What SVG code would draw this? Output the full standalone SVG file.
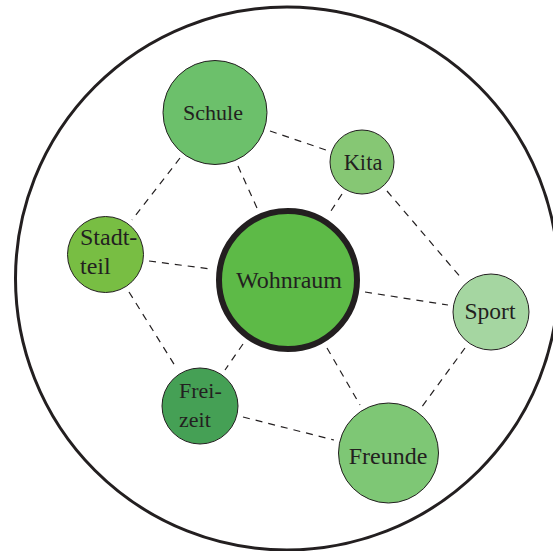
<svg xmlns="http://www.w3.org/2000/svg" width="553" height="551" viewBox="0 0 553 551">
  <style>
    .frame { fill: none; stroke: #231f20; stroke-width: 3; }
    .node { stroke: #231f20; stroke-width: 1; }
    .hub { stroke: #231f20; stroke-width: 6; }
    .link { stroke: #231f20; stroke-width: 1.2; stroke-dasharray: 7 6; fill: none; }
    .label { font-family: "Liberation Serif", "DejaVu Serif", serif; font-size: 22px; fill: #231f20; }
    .mid { text-anchor: middle; }
  </style>
  <rect width="553" height="551" fill="#ffffff"/>
  <circle class="frame" cx="287" cy="278.5" r="271.5"/>

  <g id="connectors">
    <line class="link" x1="270" y1="131" x2="326" y2="150"/>
    <line class="link" x1="238" y1="166" x2="257" y2="208"/>
    <line class="link" x1="180" y1="158" x2="132" y2="220"/>
    <line class="link" x1="342" y1="194" x2="329" y2="214"/>
    <line class="link" x1="387" y1="191" x2="462" y2="279"/>
    <line class="link" x1="149" y1="261" x2="211" y2="269"/>
    <line class="link" x1="129" y1="292" x2="177" y2="369"/>
    <line class="link" x1="365" y1="292" x2="448" y2="305"/>
    <line class="link" x1="243" y1="344" x2="225" y2="370"/>
    <line class="link" x1="327" y1="348" x2="360" y2="405"/>
    <line class="link" x1="465" y1="348" x2="421" y2="408"/>
    <line class="link" x1="243" y1="417" x2="334" y2="440"/>
  </g>

  <g id="schule">
    <circle class="node" cx="215" cy="112.5" r="52" fill="#6cc06b"/>
    <text class="label mid" x="213" y="120">Schule</text>
  </g>
  <g id="kita">
    <circle class="node" cx="362" cy="162" r="32" fill="#86c774"/>
    <text class="label mid" x="363" y="170" style="font-size:22.5px">Kita</text>
  </g>
  <g id="stadtteil">
    <circle class="node" cx="105.5" cy="254.5" r="38" fill="#78be43"/>
    <text class="label" x="80" y="245" style="font-size:24px">Stadt-</text>
    <text class="label" x="80" y="274" style="font-size:24px">teil</text>
  </g>
  <g id="wohnraum">
    <circle class="hub" cx="288" cy="280" r="69" fill="#5dba47"/>
    <text class="label mid" x="289" y="288" style="font-size:24px">Wohnraum</text>
  </g>
  <g id="sport">
    <circle class="node" cx="491" cy="312" r="38" fill="#a5d6a1"/>
    <text class="label mid" x="490" y="319" style="font-size:23.5px">Sport</text>
  </g>
  <g id="freizeit">
    <circle class="node" cx="200" cy="406" r="38" fill="#45a055"/>
    <text class="label" x="179" y="398">Frei-</text>
    <text class="label" x="179" y="427">zeit</text>
  </g>
  <g id="freunde">
    <circle class="node" cx="388.5" cy="453" r="50" fill="#7ec775"/>
    <text class="label mid" x="388" y="464" style="font-size:24px">Freunde</text>
  </g>
</svg>
